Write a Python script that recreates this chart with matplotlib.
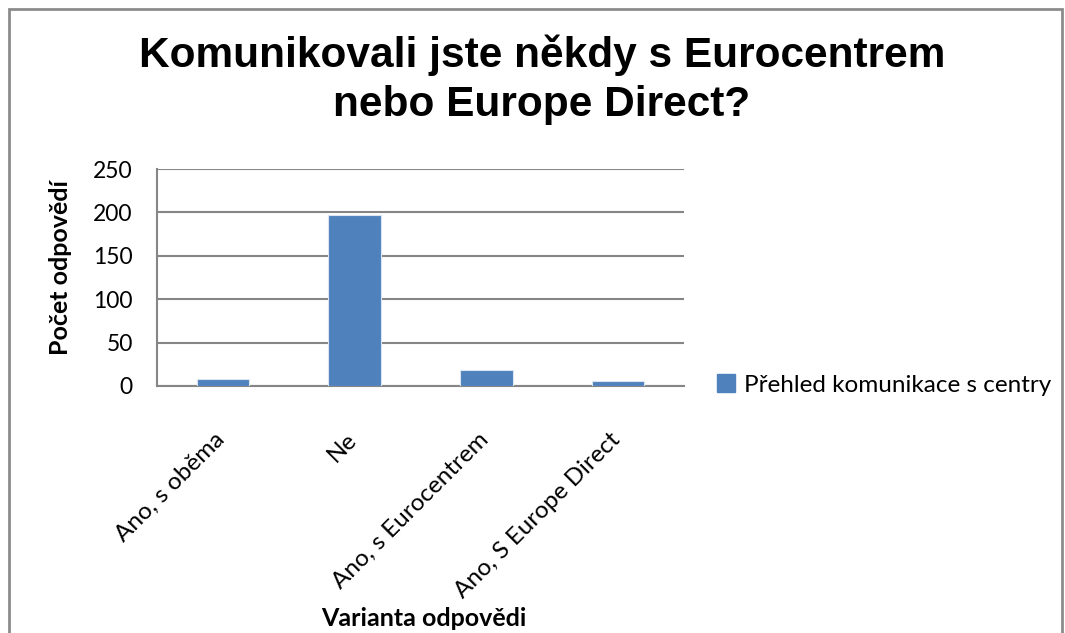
import matplotlib.pyplot as plt
from matplotlib.patches import Patch, Rectangle
from matplotlib.transforms import ScaledTranslation

# Chart data
categories = ["Ano, s oběma", "Ne", "Ano, s Eurocentrem", "Ano, S Europe Direct"]
counts = [8, 197, 19, 6]
seriesName = "Přehled komunikace s centry"
yTicks = [0, 50, 100, 150, 200, 250]

barColor = "#4F81BD"
gridColor = "#868686"
bodyFont = "Lato"

fig = plt.figure(figsize=(10.65, 6.33), dpi=100)
fig.patch.set_facecolor("white")

# Outer chart border (bottom edge is cut off in the reference)
fig.patches.append(Rectangle((9 / 1065, -0.05), (1062 - 9) / 1065, 1.05 - 9 / 633,
                             transform=fig.transFigure, fill=False,
                             edgecolor="#8c8c8c", linewidth=2))

ax = fig.add_axes([157 / 1065, 1 - 386 / 633, (684 - 157) / 1065, (386 - 169) / 633])
xPos = list(range(len(categories)))
ax.bar(xPos, counts, width=0.4, color=barColor, edgecolor="#dbe5f1", linewidth=0.8,
       zorder=3, label=seriesName)
ax.set_xlim(-0.5, len(categories) - 0.5)
ax.set_ylim(0, 250)
ax.set_yticks(yTicks)
ax.set_yticklabels([str(t) for t in yTicks], fontsize=16.5, family=bodyFont)
ax.yaxis.grid(True, color=gridColor, linewidth=1.5, zorder=0)
ax.set_xticks(xPos)
ax.set_xticklabels(categories, rotation=45, ha="right", va="top", rotation_mode="anchor",
                   fontsize=17.5, family=bodyFont)
ax.tick_params(axis="both", length=0)
ax.tick_params(axis="y", pad=17.5)
ax.tick_params(axis="x", pad=31)
# nudge the rotated labels a little to the left, as in the original
shift = ScaledTranslation(-9 / 100, 0, fig.dpi_scale_trans)
for lbl in ax.get_xticklabels():
    lbl.set_transform(lbl.get_transform() + shift)
for side in ["top", "right"]:
    ax.spines[side].set_visible(False)
ax.spines["left"].set_color(gridColor)
ax.spines["left"].set_linewidth(1.5)
ax.spines["bottom"].set_color(gridColor)
ax.spines["bottom"].set_linewidth(1.5)

# Title and axis labels
fig.text(542 / 1065, 1 - 80 / 633, "Komunikovali jste někdy s Eurocentrem\nnebo Europe Direct?",
         ha="center", va="center", fontsize=30.5, fontweight="bold",
         family="Liberation Sans", linespacing=1.3)
fig.text(61 / 1065, 1 - 268 / 633, "Počet odpovědí", rotation=90, ha="center", va="center",
         fontsize=18, fontweight="bold", family=bodyFont)
fig.text(424 / 1065, 1 - 619 / 633, "Varianta odpovědi", ha="center", va="center",
         fontsize=18, fontweight="bold", family=bodyFont)

# Legend
fig.legend(handles=[Patch(facecolor=barColor, edgecolor=barColor)], labels=[seriesName],
           loc="center left", bbox_to_anchor=(717 / 1065, 1 - 385 / 633), frameon=False,
           borderpad=0, borderaxespad=0,
           handlelength=0.75, handleheight=0.75, handletextpad=0.35,
           prop={"family": bodyFont, "size": 17.5})

fig.savefig("out.png", dpi=100)
